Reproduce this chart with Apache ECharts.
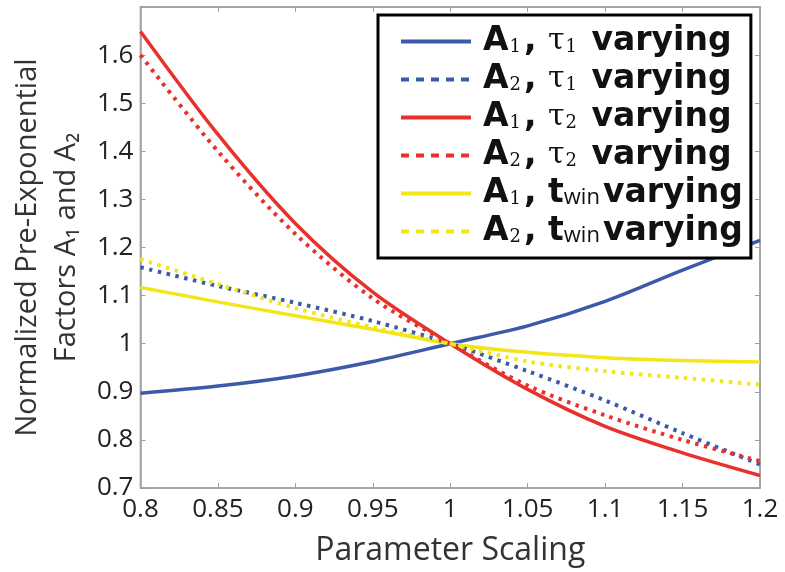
<!DOCTYPE html>
<html>
	<head>
		<meta charset="UTF-8">
		<title></title>
		<script src="https://cdn.jsdelivr.net/npm/echarts@6/dist/echarts.min.js" type="text/javascript" charset="utf-8"></script>
		<style>
			html, body {margin: 0; padding: 0; background: #fff;}
		</style>
	</head>
	<body>
		<div id="chart" style="width: 785px;height: 572px;"></div>
		<script type="text/javascript">
			// parameter scaling (x) and the six curves
			var xs = [0.8, 0.85, 0.9, 0.95, 1, 1.05, 1.1, 1.15, 1.2];
			var a1Tau1 = [0.897, 0.912, 0.933, 0.963, 1.0, 1.037, 1.088, 1.153, 1.215];
			var a2Tau1 = [1.159, 1.120, 1.085, 1.047, 1.0, 0.943, 0.882, 0.814, 0.749];
			var a1Tau2 = [1.649, 1.435, 1.250, 1.107, 1.0, 0.905, 0.828, 0.773, 0.726];
			var a2Tau2 = [1.600, 1.400, 1.228, 1.094, 1.0, 0.913, 0.851, 0.800, 0.756];
			var a1Twin = [1.117, 1.087, 1.058, 1.030, 1.0, 0.982, 0.971, 0.965, 0.962];
			var a2Twin = [1.176, 1.124, 1.074, 1.034, 1.0, 0.963, 0.943, 0.929, 0.915];

			var names = ['A1, τ1 varying', 'A2, τ1 varying', 'A1, τ2 varying', 'A2, τ2 varying', 'A1, twin varying', 'A2, twin varying'];
			var richNames = {
				'A1, τ1 varying': '{f|A}{s|1}{a|, }{g|τ}{s|1}{a| varying}',
				'A2, τ1 varying': '{f|A}{s|2}{a|, }{g|τ}{s|1}{a| varying}',
				'A1, τ2 varying': '{f|A}{s|1}{a|, }{g|τ}{s|2}{a| varying}',
				'A2, τ2 varying': '{f|A}{s|2}{a|, }{g|τ}{s|2}{a| varying}',
				'A1, twin varying': '{f|A}{s|1}{a|, t}{w|win}{a|varying}',
				'A2, twin varying': '{f|A}{s|2}{a|, t}{w|win}{a|varying}'
			};
			var blue = '#3b5aa8', red = '#e8302c', yellow = '#f3e618';

			function pairs(arr) {
				return xs.map((x, i) => [x, arr[i]]);
			}
			function mkSeries(name, arr, color, dotted) {
				return {
					name: name,
					type: 'line',
					data: pairs(arr),
					smooth: 0.3,
					symbol: 'none',
					lineStyle: {color: color, width: dotted ? 4 : 3.5, type: dotted ? [3.5, 5.5] : 'solid'},
					itemStyle: {color: color},
					z: dotted ? 3 : 2
				};
			}

			var boldText = {fontFamily: 'DejaVu Sans', fontWeight: 'bold', fontSize: 33, color: '#111', lineHeight: 30};
			var chart = echarts.init(document.getElementById('chart'));
			var option = {
				animation: false,
				grid: {left: 137, right: 25, top: 7, bottom: 76, show: true, borderColor: '#a0a0a0', borderWidth: 1.5},
				legend: {
					orient: 'vertical',
					left: 378,
					top: 15,
					padding: [10, 8, 10, 21],
					itemGap: 5,
					itemWidth: 70,
					itemHeight: 14,
					backgroundColor: '#fff',
					borderColor: '#000',
					borderWidth: 3,
					z: 10,
					itemStyle: {opacity: 0},
					data: names.map((n, i) => ({
						name: n,
						lineStyle: {width: 4, type: i % 2 ? [8, 7] : 'solid'}
					})),
					formatter: function (n) {
						return richNames[n];
					},
					textStyle: {
						rich: {
							a: boldText,
							f: Object.assign({}, boldText, {padding: [0, 0, 0, 7]}),
							g: {fontFamily: 'DejaVu Serif', fontSize: 30, color: '#111', lineHeight: 30},
							s: {fontFamily: 'DejaVu Serif', fontSize: 18, color: '#111', lineHeight: 9, verticalAlign: 'bottom', padding: [0, 3, 0, 1]},
							w: {fontFamily: 'Open Sans', fontSize: 22, color: '#111', lineHeight: 11, verticalAlign: 'bottom', padding: [0, 3, 0, 0]}
						}
					}
				},
				xAxis: [{
					type: 'value',
					min: 0.8,
					max: 1.2,
					interval: 0.05,
					name: 'Parameter Scaling',
					nameLocation: 'middle',
					nameGap: 47,
					nameTextStyle: {fontFamily: 'Open Sans', fontSize: 32, color: '#333'},
					axisLine: {show: true, lineStyle: {color: '#a0a0a0', width: 1.5}},
					axisTick: {show: true, inside: true, length: 5, lineStyle: {color: '#a0a0a0'}},
					axisLabel: {fontFamily: 'Open Sans', fontSize: 26, color: '#222', margin: 9},
					splitLine: {show: false}
				}, {
					type: 'value',
					position: 'top',
					min: 0.8,
					max: 1.2,
					interval: 0.05,
					axisLine: {show: true, lineStyle: {color: '#a0a0a0', width: 1.5}},
					axisTick: {show: true, inside: true, length: 5, lineStyle: {color: '#a0a0a0'}},
					axisLabel: {show: false},
					splitLine: {show: false}
				}],
				yAxis: [{
					type: 'value',
					min: 0.7,
					max: 1.7,
					interval: 0.1,
					name: 'Normalized Pre-Exponential\nFactors A₁ and A₂',
					nameLocation: 'middle',
					nameGap: 45,
					nameTextStyle: {fontFamily: 'Open Sans', fontSize: 29, color: '#333', lineHeight: 39},
					axisLine: {show: true, lineStyle: {color: '#a0a0a0', width: 1.5}},
					axisTick: {show: true, inside: true, length: 5, lineStyle: {color: '#a0a0a0'}},
					axisLabel: {
						fontFamily: 'Open Sans', fontSize: 26, color: '#222', margin: 7,
						formatter: function (v) {
							return v > 1.65 ? '' : String(Math.round(v * 10) / 10);
						}
					},
					splitLine: {show: false}
				}, {
					type: 'value',
					position: 'right',
					min: 0.7,
					max: 1.7,
					interval: 0.1,
					axisLine: {show: true, lineStyle: {color: '#a0a0a0', width: 1.5}},
					axisTick: {show: true, inside: true, length: 5, lineStyle: {color: '#a0a0a0'}},
					axisLabel: {show: false},
					splitLine: {show: false}
				}],
				series: [
					mkSeries(names[0], a1Tau1, blue, false),
					mkSeries(names[1], a2Tau1, blue, true),
					mkSeries(names[2], a1Tau2, red, false),
					mkSeries(names[3], a2Tau2, red, true),
					mkSeries(names[4], a1Twin, yellow, false),
					mkSeries(names[5], a2Twin, yellow, true)
				]
			};
			chart.setOption(option, true);
		</script>
	</body>
</html>
